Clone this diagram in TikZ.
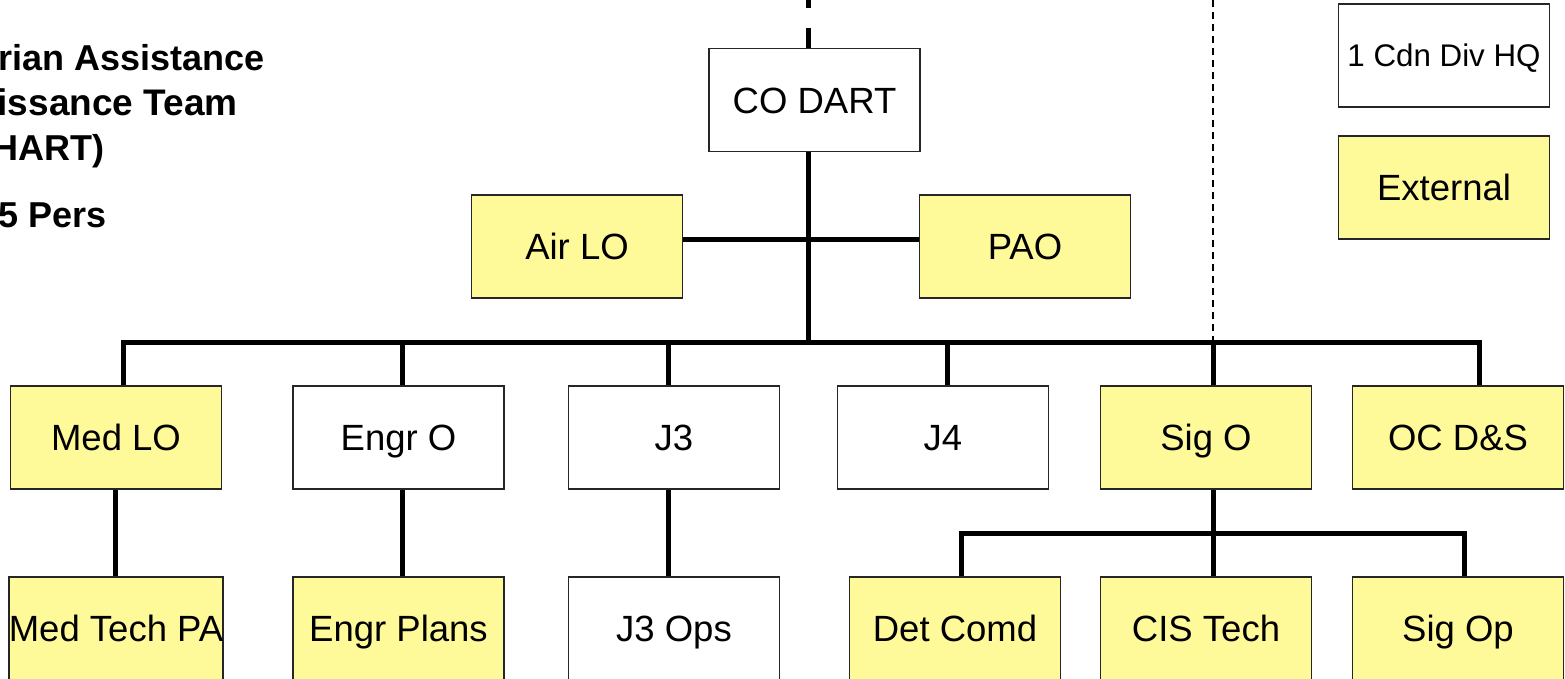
\documentclass[tikz,border=0pt]{standalone}
\usepackage{fontspec}
\setmainfont{Liberation Sans}
\begin{document}
\begin{tikzpicture}[x=1pt,y=-1pt,
  box/.style={draw=black!85,line width=1.8pt,minimum width=211pt,minimum height=103pt,inner sep=0pt,
    text height=26.2pt,text depth=0pt,font=\fontsize{36.5}{40}\selectfont},
  yel/.style={box,fill=yellow!40},
  wht/.style={box,fill=white},
  conn/.style={line width=5pt,line cap=butt,line join=miter},
  ttl/.style={inner sep=0pt,font=\fontsize{36}{40}\selectfont\bfseries}]
\useasboundingbox (0,0) rectangle (1565,678);
% title
\node[ttl,anchor=base west] (t1) at (-2,70) {rian Assistance};
\node[ttl,anchor=base west,font=\fontsize{37}{40}\selectfont\bfseries] (t2) at (-2.5,115) {issance Team};
\node[ttl,anchor=base east] (t3) at (105,160) {HART)};
\node[ttl,anchor=base east] (t4) at (107,227) {5 Pers};
% nodes
\node[wht] (codart) at (814.5,100) {CO DART};
\node[yel] (airlo) at (577,246.5) {Air LO};
\node[yel] (pao) at (1025,246.5) {PAO};
\node[wht,text height=22pt,font=\fontsize{31.3}{34}\selectfont] (hq) at (1444,55.5) {1 Cdn Div HQ};
\node[yel] (ext) at (1444,187.5) {External};
\node[yel] (medlo) at (116,437.5) {Med LO};
\node[wht] (engro) at (398.5,437.5) {Engr O};
\node[wht] (j3) at (674,437.5) {J3};
\node[wht] (j4) at (943,437.5) {J4};
\node[yel] (sigo) at (1206,437.5) {Sig O};
\node[yel] (ocds) at (1458,437.5) {OC D\&S};
\node[yel] (medtech) at (116,628.5) {Med Tech PA};
\node[yel] (engrplans) at (398.5,628.5) {Engr Plans};
\node[wht] (j3ops) at (674,628.5) {J3 Ops};
\node[yel] (detcomd) at (955,628.5) {Det Comd};
\node[yel] (cistech) at (1206,628.5) {CIS Tech};
\node[yel] (sigop) at (1458,628.5) {Sig Op};
% coordinates
\coordinate (top) at (808,-12);
\coordinate (busL) at (123,342);
\coordinate (busR) at (1479,342);
\coordinate (busM) at (808,342);
\coordinate (xE) at (402,342);
\coordinate (x3) at (668,342);
\coordinate (x4) at (947,342);
\coordinate (xS) at (1213,342);
\coordinate (xM) at (115,0);
\coordinate (sub) at (1213,533);
\coordinate (subL) at (961,533);
\coordinate (subR) at (1464,533);
\coordinate (dtop) at (1213,0);
% connectors
\draw[conn,dash pattern=on 20pt off 20pt] (top |- codart.north) -- (top);
\draw[conn] (busM |- codart.south) -- (busM);
\draw[conn] (airlo.east |- 0,239) -- (pao.west |- 0,239);
\draw[conn] (busL |- medlo.north) -- (busL) -- (busR) -- (busR |- ocds.north);
\draw[conn] (xE) -- (xE |- engro.north);
\draw[conn] (x3) -- (x3 |- j3.north);
\draw[conn] (x4) -- (x4 |- j4.north);
\draw[conn] (xS) -- (xS |- sigo.north);
\draw[conn] (xM |- medlo.south) -- (xM |- medtech.north);
\draw[conn] (xE |- engro.south) -- (xE |- engrplans.north);
\draw[conn] (x3 |- j3.south) -- (x3 |- j3ops.north);
\draw[conn] (sub |- sigo.south) -- (sub |- cistech.north);
\draw[conn] (subL |- detcomd.north) -- (subL) -- (subR) -- (subR |- sigop.north);
\draw[line width=1.8pt,dash pattern=on 7pt off 5pt] (dtop) -- (xS);
\end{tikzpicture}
\end{document}
